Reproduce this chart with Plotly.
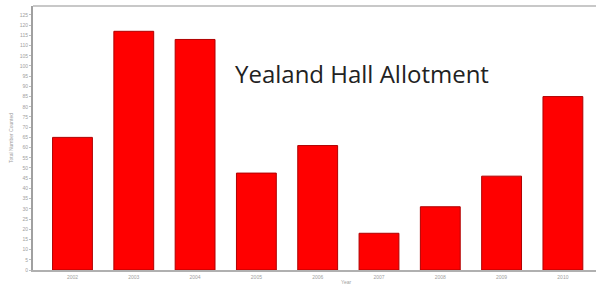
import plotly.graph_objects as go

years = ["2002", "2003", "2004", "2005", "2006", "2007", "2008", "2009", "2010"]
counts = [65, 117, 113, 47.5, 61, 18, 31, 46, 85]
y_ticks = list(range(0, 130, 5))
title_text = "Yealand Hall Allotment"
y_title = "Total Number Counted"
x_title = "Year"

fig = go.Figure()
fig.add_trace(go.Bar(
    x=list(range(len(years))), y=counts,
    marker=dict(color="#ff0000", line=dict(color="#b00000", width=1)),
))

fig.update_layout(
    width=596, height=284, autosize=False,
    margin=dict(l=33, r=0, t=6, b=14, pad=0),
    plot_bgcolor="white", paper_bgcolor="white",
    bargap=0.35, showlegend=False,
    font=dict(family="Liberation Sans", size=5, color="#999999"),
    xaxis=dict(
        range=[-0.644, 8.54], tickmode="array",
        tickvals=list(range(len(years))), ticktext=years,
        showgrid=False, zeroline=False, showline=True, automargin=False,
        linecolor="#b0b0b0", linewidth=2, ticks="outside", ticklen=1,
        tickcolor="rgba(0,0,0,0)",
        tickfont=dict(size=5, color="#a0a0a0"),
    ),
    yaxis=dict(
        range=[0, 129.4], tickmode="array", tickvals=y_ticks,
        ticktext=[str(v) for v in y_ticks], automargin=False,
        showgrid=False, zeroline=False, showline=True,
        linecolor="#a0a0a0", linewidth=2, ticks="outside",
        ticklen=2, tickcolor="#c0c0c0",
        tickfont=dict(size=5, color="#a0a0a0"),
        title=dict(text=y_title, font=dict(size=5, color="#a0a0a0"), standoff=6),
    ),
    shapes=[dict(type="line", xref="paper", yref="paper", x0=0, x1=1, y0=1, y1=1,
                 line=dict(color="#c8c8c8", width=2))],
    annotations=[
        dict(text=title_text, xref="paper", yref="paper", x=(233 - 33) / 563,
             y=(270 - 73) / 264, xanchor="left", yanchor="middle", showarrow=False,
             font=dict(family="Open Sans", size=24, color="#222222")),
        dict(text=x_title, xref="paper", yref="paper", x=(346 - 33) / 563,
             y=-7 / 264, xanchor="center", yanchor="top", showarrow=False,
             font=dict(size=5, color="#a0a0a0")),
    ],
)

fig.write_html("out.html", config={"displayModeBar": False},
               post_script="document.body.style.margin='0';")
